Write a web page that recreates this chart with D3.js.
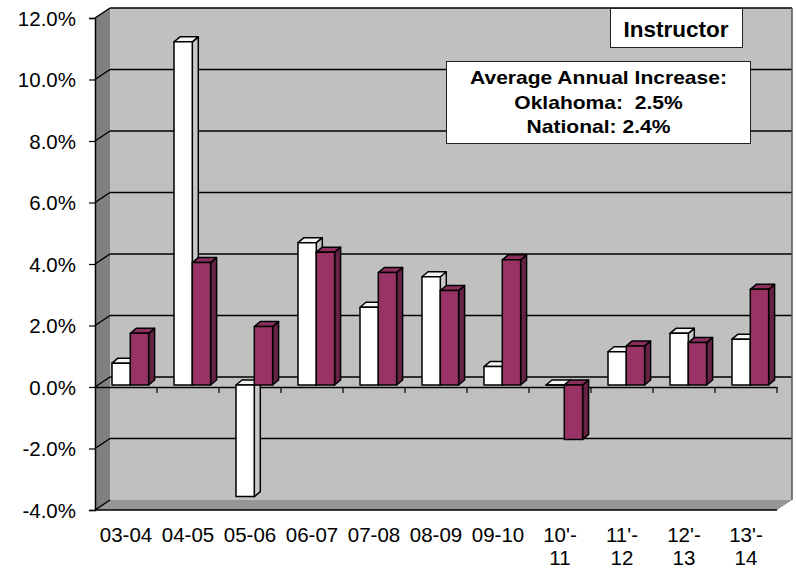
<!DOCTYPE html>
<html><head><meta charset="utf-8">
<script src="https://cdn.jsdelivr.net/npm/d3@7"></script>
<style>body{margin:0;background:#fff}svg{display:block}text{font-family:"Liberation Sans",Arial,sans-serif}</style>
</head><body><svg id="c" width="796" height="573"></svg>
<script>
const categories = ["03-04","04-05","05-06","06-07","07-08","08-09","09-10","10'-11","11'-12","12'-13","13'-14"];
const seriesNames = ["Oklahoma","National"];
const oklahoma = [0.71, 11.16, -3.63, 4.63, 2.53, 3.52, 0.60, 0.0, 1.08, 1.68, 1.49];
const national = [1.68, 3.98, 1.90, 4.32, 3.66, 3.07, 4.07, -1.77, 1.27, 1.38, 3.11];
const yTicks = [-4, -2, 0, 2, 4, 6, 8, 10, 12];
const titleText = "Instructor";
const noteLines = ["Average Annual Increase:", "Oklahoma:  2.5%", "National: 2.4%"];

const svg = d3.select("#c");
const x0 = d3.scaleBand().domain(categories).range([95, 777]).padding(0);
const x1 = d3.scaleBand().domain(seriesNames).range([17, 53.6]);
const y = d3.scaleLinear().domain([-4, 12]).range([510, 18]);
const DX = 15, DY = -10;       // wall depth
const bdx = 6, bdy = -5;       // bar depth
const bOffY = -2;              // bar front offset
const fmt = d3.formatLocale({decimal: ".", thousands: ",", grouping: [3], currency: ["", ""], minus: "-"}).format(".1f");

const wallL = 95 + DX, wallR = 777 + DX;
// back wall
svg.append("rect").attr("x", wallL).attr("y", y(12) + DY).attr("width", wallR - wallL)
  .attr("height", y(-4) - y(12)).attr("fill", "#c0c0c0");
// side wall
svg.append("polygon").attr("points", [[95, y(12)], [wallL, y(12) + DY], [wallL, y(-4) + DY], [95, y(-4)]].join(" "))
  .attr("fill", "#808080");
// floor
svg.append("polygon").attr("points", [[95, y(-4)], [wallL, y(-4) + DY], [wallR, y(-4) + DY], [777, y(-4)]].join(" "))
  .attr("fill", "#969696");
// gridlines
yTicks.forEach(t => {
  if (t > -4) svg.append("line").attr("x1", wallL).attr("x2", wallR).attr("y1", y(t) + DY).attr("y2", y(t) + DY)
    .attr("stroke", "#000").attr("stroke-width", 1.5);
  svg.append("line").attr("x1", 95).attr("x2", wallL).attr("y1", y(t)).attr("y2", y(t) + DY)
    .attr("stroke", "#000").attr("stroke-width", 1.5);
});
// right wall edge
svg.append("line").attr("x1", wallR).attr("x2", wallR).attr("y1", y(12) + DY).attr("y2", y(-4) + DY)
  .attr("stroke", "#555").attr("stroke-width", 1.5);
// left axis
const yAxis = d3.axisLeft(y).tickValues(yTicks).tickSize(6).tickPadding(13)
  .tickFormat(d => fmt(d) + "%");
const ga = svg.append("g").attr("transform", "translate(95,0)").call(yAxis);
ga.select(".domain").attr("stroke", "#000").attr("stroke-width", 1.5);
ga.selectAll(".tick line").attr("stroke", "#000").attr("stroke-width", 1.2);
ga.selectAll(".tick text").attr("font-size", 20.5).attr("fill", "#000").attr("font-family", "Liberation Sans, Arial, sans-serif")
  .attr("dy", "0.35em");
// floor front edge
svg.append("line").attr("x1", 95).attr("x2", 777).attr("y1", y(-4)).attr("y2", y(-4))
  .attr("stroke", "#000").attr("stroke-width", 1.5);
// zero category axis
const xAxis = d3.axisBottom(x0).tickSize(0).tickFormat("");
const gx = svg.append("g").attr("transform", `translate(0,${y(0)})`).call(xAxis);
gx.select(".domain").attr("stroke", "#000").attr("stroke-width", 1.5);
const tickXs = categories.map(c => x0(c)).concat([x0.range()[1]]);
gx.selectAll(".ctick").data(tickXs.slice(1)).enter().append("line").attr("class", "ctick")
  .attr("x1", d => d).attr("x2", d => d).attr("y1", 0).attr("y2", 6).attr("stroke", "#000").attr("stroke-width", 1.2);

// bars
const data = [];
categories.forEach((c, i) => {
  data.push({c, s: "Oklahoma", v: oklahoma[i]});
  data.push({c, s: "National", v: national[i]});
});
const colors = {
  Oklahoma: {front: "#ffffff", top: "#f4f4f4", side: "#c8c8c8"},
  National: {front: "#993366", top: "#8c2f5e", side: "#662244"}
};
const bw = x1.bandwidth();
const gb = svg.append("g");
data.forEach(d => {
  const xl = x0(d.c) + x1(d.s), xr = xl + bw;
  const y0 = y(0) + bOffY, yv = y(d.v) + bOffY;
  const top = Math.min(y0, yv), bot = Math.max(y0, yv);
  const col = colors[d.s];
  const g = gb.append("g").attr("stroke", "#000").attr("stroke-width", 1.5).attr("stroke-linejoin", "round");
  g.append("polygon").attr("points", [[xr, top], [xr + bdx, top + bdy], [xr + bdx, bot + bdy], [xr, bot]].join(" ")).attr("fill", col.side);
  g.append("polygon").attr("points", [[xl, top], [xl + bdx, top + bdy], [xr + bdx, top + bdy], [xr, top]].join(" ")).attr("fill", col.top);
  g.append("rect").attr("x", xl).attr("y", top).attr("width", bw).attr("height", Math.max(0.01, bot - top)).attr("fill", col.front);
});

// category labels
const lab = svg.append("g").attr("font-size", 20.5).attr("fill", "#000").attr("text-anchor", "middle");
categories.forEach(c => {
  const lines = c.includes("'-") ? [c.slice(0, c.indexOf("'-") + 2), c.slice(c.indexOf("'-") + 2)] : [c];
  const t = lab.append("text").attr("x", x0(c) + x0.bandwidth() / 2).attr("y", 542);
  lines.forEach((l, k) => t.append("tspan").attr("x", x0(c) + x0.bandwidth() / 2).attr("dy", k ? 23 : 0).text(l));
});

// title box
svg.append("rect").attr("x", 610.5).attr("y", 8.5).attr("width", 132).attr("height", 39)
  .attr("fill", "#fff").attr("stroke", "#222").attr("stroke-width", 1);
svg.append("text").attr("x", 676).attr("y", 36.5).attr("text-anchor", "middle").attr("font-weight", "bold")
  .attr("font-size", 22.5).text(titleText);
// note box
svg.append("rect").attr("x", 446.5).attr("y", 61.5).attr("width", 304).attr("height", 82)
  .attr("fill", "#fff").attr("stroke", "#222").attr("stroke-width", 1);
noteLines.forEach((l, k) => {
  svg.append("text").attr("transform", `translate(598.5,${84.3 + k * 24.5}) scale(1.17,1)`)
    .attr("text-anchor", "middle").attr("font-weight", "bold").attr("font-size", 18).attr("xml:space", "preserve")
    .style("white-space", "pre").text(l);
});
</script></body></html>
